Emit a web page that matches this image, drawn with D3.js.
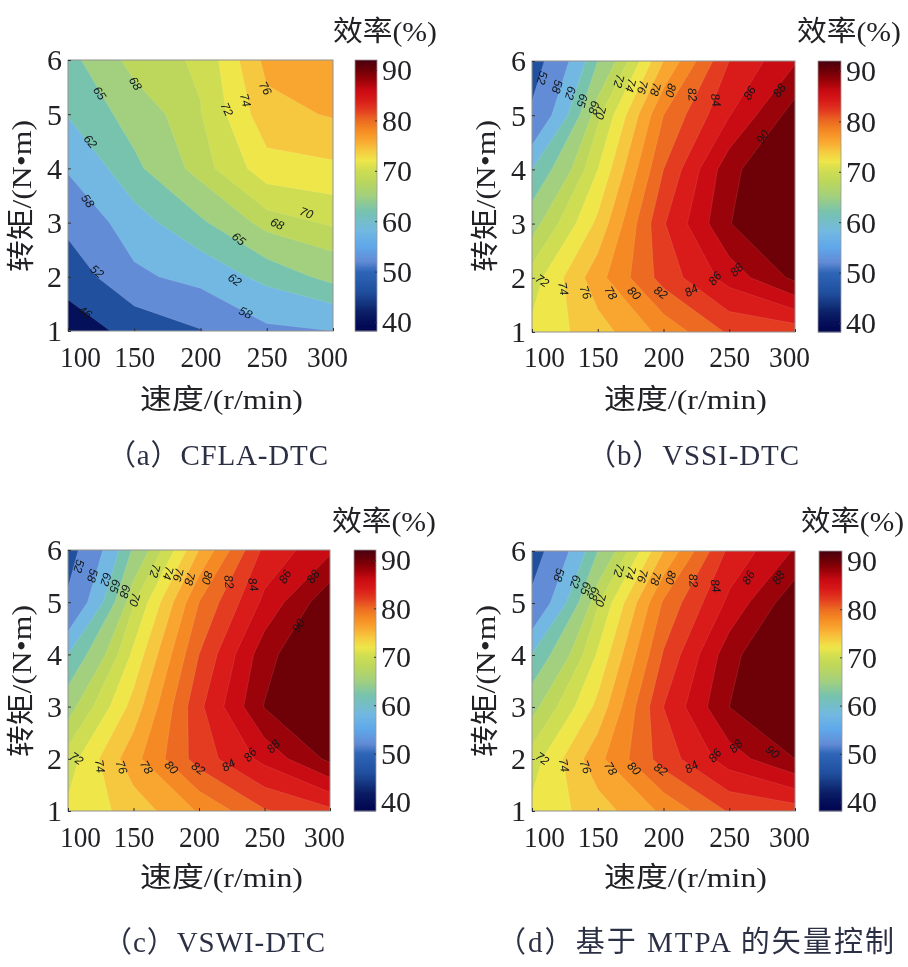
<!DOCTYPE html>
<html><head><meta charset="utf-8">
<script src="https://cdn.jsdelivr.net/npm/d3@7"></script>
<style>
html,body{margin:0;padding:0;background:#fff}
svg{display:block;filter:blur(0.75px)}
text{font-family:"Liberation Serif","Noto Sans CJK SC",serif;fill:#222226}
.cl{font-family:"Liberation Sans",sans-serif;font-size:12px;fill:#10161a;font-style:italic}
</style></head><body>
<svg id="c" width="908" height="967"></svg>
<script>
const speeds=[100,150,200,250,300];
const torques=[1,2,3,4,5,6];
const levels=[46,52,58,62,65,68,70,72,74,76,78,80,82,84,86,88,90];
const barTicks=[40,50,60,70,80,90];
// efficiency (%) rows for torque 1..6, columns for speed 100..300
const effA=[[43,47.7,51.7,57.2,58],[48.2,57,59.7,63,66],[53.7,60.6,64.5,69,70.3],[58.5,64.3,69.1,73.2,73.6],[62.2,66.3,69.9,75.3,76.2],[64,69,70.3,76.6,77.5]];
const effB=[[72.5,75.1,78.6,82.3,82.8],[71,77.25,82.8,86.8,90.5],[67,74.5,83.8,89.9,93],[62,72,82,89.3,93],[53.1,69.5,80,85.9,91],[49,65,76,84,87.8]];
const effC=[[72.4,74.8,78.2,81.8,83.5],[71,77.3,82.9,86.6,90.5],[67,74.8,83.5,90.1,93],[62,72.5,82,89.2,93],[53,69.8,80,86.5,91.5],[49.5,65.5,76,84.5,87.6]];
const effD=[[72.5,75,78.4,82.2,83],[71,77.4,82.9,87,90],[67.2,74.6,84,90,93],[62.2,72.3,82.2,89.2,93.5],[53.5,69.8,80.3,86.5,91.5],[49,65,76,84.5,88.2]];
// contour labels: text, speed, torque
const labA=[["46",113,1.35,35],["52",122,2.1,40],["58",115,3.4,55],["62",117,4.5,50],["65",124,5.39,55],["68",151,5.57,60],["72",220,5.09,65],["74",234,5.26,75],["76",249,5.48,60],["58",234,1.34,25],["62",226,1.95,35],["65",229,2.7,40],["68",258,2.98,25],["70",280,3.18,20]];
const topB=[["52",107.9,5.69],["58",119.3,5.53],["62",129.4,5.41],["65",138.3,5.27],["68",147.2,5.14],["70",152.3,5.05],["72",166.2,5.63],["74",175.1,5.55],["76",184,5.52],["78",194,5.48],["80",205.6,5.46],["82",222,5.38],["84",239.9,5.28],["86",265.3,5.41],["88",288,5.46],["90",275.4,4.6]];
const botB=[["72",107.9,1.95],["74",123.8,1.8],["76",140.9,1.73],["78",160,1.72],["80",177.7,1.72],["82",198,1.73],["84",221,1.77],["86",239,1.99],["88",255.6,2.15]];
const topC=[["52",108.4,5.69],["58",118.8,5.51],["62",129,5.44],["65",135.9,5.31],["68",143.5,5.21],["70",151,5.05],["72",166.4,5.6],["74",176.6,5.56],["76",184.2,5.53],["78",193,5.45],["80",206.4,5.47],["82",223,5.39],["84",241.5,5.34],["86",265.6,5.49],["88",287,5.49],["90",275.8,4.55]];
const botC=[["72",106.6,2.01],["74",124.4,1.86],["76",141,1.84],["78",160,1.84],["80",179,1.84],["82",199.5,1.82],["84",222.4,1.88],["86",239,2.08],["88",256.7,2.24]];
const topD=[["58",120.6,5.54],["62",133.2,5.41],["65",140.9,5.28],["68",147.2,5.18],["70",152.3,5.06],["72",166.2,5.63],["74",175.1,5.58],["76",184,5.52],["78",194.2,5.47],["80",205.6,5.49],["82",222.8,5.43],["84",239.8,5.33],["86",264.5,5.49],["88",287.3,5.49]];
const botD=[["72",107.9,2.01],["74",124.4,1.88],["76",140.9,1.85],["78",159.9,1.82],["80",177.7,1.82],["82",198,1.8],["84",221.3,1.85],["86",239,2.07],["88",255,2.25],["90",283,2.14]];
const botAngle={"72":35,"74":80,"76":70,"78":60,"80":45,"82":35,"84":-30,"86":-50,"88":-45,"90":40};
const topAngle={"86":-60,"88":-55,"90":-55,"84":80,"82":85};
const withTop=(top,bot)=>top.map(d=>[...d,topAngle[d[0]]??105]).concat(bot.map(d=>[...d,botAngle[d[0]]]));
// colormap
const cmapV=[38,40,42,46,50,52,55,58,62,65,68,70,72,74,76,78,80,82,84,86,88,90,92];
const cmapC=["#02044e","#05105a","#0c2068","#21509f","#2f66b8","#638cd6","#5fa8ea","#72b8e2","#78c3ae","#a2d07e","#bdd75c","#cedd52","#efe64a","#f6c83f","#f9a630","#f58a24","#ec6a22","#e33c21","#d91b19","#c90b13","#9a0309","#6e0007","#4a0010"];
const cmap=d3.scaleLinear().domain(cmapV).range(cmapC);

const panels=[
 {eff:effA,labs:labA,px:[68,333],py:[331,60],bar:[355,377],caption:"（a）CFLA-DTC",capX:[107,328],capY:465,ttl:[333,437],ttlY:41,xl:[140,303],xlY:409,tickY:367,yl:18,ylc:196},
 {eff:effB,labs:withTop(topB,botB),px:[532,795],py:[332,61],bar:[818,841],caption:"（b）VSSI-DTC",capX:[587,799],capY:465,ttl:[797,901],ttlY:41,xl:[604,767],xlY:409,tickY:367,yl:482,ylc:196},
 {eff:effC,labs:withTop(topC,botC),px:[68,330],py:[811,550],bar:[354,376],caption:"（c）VSWI-DTC",capX:[103,325],capY:952,ttl:[332,436],ttlY:531,xl:[140,303],xlY:887,tickY:847,yl:18,ylc:681},
 {eff:effD,labs:withTop(topD,botD),px:[532,795],py:[811,551],bar:[819,842],caption:"（d）基于 MTPA 的矢量控制",capX:[497,894],capY:952,ttl:[801,904],ttlY:531,xl:[604,767],xlY:887,tickY:847,yl:482,ylc:681}
];

const svg=d3.select("#c");
const defs=svg.append("defs");
const serif='"Liberation Serif",serif';
panels.forEach((p,i)=>{
  const g=svg.append("g");
  const x=d3.scaleLinear().domain([100,300]).range(p.px);
  const y=d3.scaleLinear().domain([1,6]).range(p.py);
  const nx=speeds.length, ny=torques.length;
  const flat=p.eff.flat();
  const project=d3.geoTransform({point(gx,gy){
    const sp=speeds[0]+Math.max(0,Math.min(nx-1,gx-0.5))*(speeds[1]-speeds[0]);
    const tq=torques[0]+Math.max(0,Math.min(ny-1,gy-0.5))*(torques[1]-torques[0]);
    this.stream.point(x(sp),y(tq));
  }});
  const path=d3.geoPath(project);
  const contours=d3.contours().size([nx,ny]).thresholds(levels)(flat);
  defs.append("clipPath").attr("id","clip"+i).append("rect")
    .attr("x",p.px[0]).attr("y",p.py[1]).attr("width",p.px[1]-p.px[0]).attr("height",p.py[0]-p.py[1]);
  const plot=g.append("g").attr("clip-path",`url(#clip${i})`);
  plot.append("rect").attr("x",p.px[0]).attr("y",p.py[1]).attr("width",p.px[1]-p.px[0]).attr("height",p.py[0]-p.py[1]).attr("fill",cmap(40));
  plot.selectAll("path").data(contours).join("path")
    .attr("d",path).attr("fill",d=>cmap(d.value))
    .attr("stroke","#fff").attr("stroke-opacity",0.14).attr("stroke-width",0.7);
  // frame
  g.append("rect").attr("x",p.px[0]).attr("y",p.py[1]).attr("width",p.px[1]-p.px[0]).attr("height",p.py[0]-p.py[1]).attr("fill","none").attr("stroke","#8f8f8f").attr("stroke-width",1);
  // axes
  const ax=g.append("g").attr("transform",`translate(0,${p.py[0]})`).call(d3.axisBottom(x).tickValues(speeds).tickFormat(d3.format("d")).tickSize(-3).tickSizeOuter(0));
  ax.select(".domain").remove();
  ax.selectAll("line").attr("stroke","#333");
  ax.selectAll("text").attr("font-size",30).attr("y",p.tickY-p.py[0]).attr("dy",0).attr("text-anchor","middle")
    .attr("x",d=>d===100?12:(d===300?-6:0)).attr("textLength",41).attr("lengthAdjust","spacingAndGlyphs")
    .style("font-family",serif).style("fill","#222226");
  const ay=g.append("g").attr("transform",`translate(${p.px[0]},0)`).call(d3.axisLeft(y).tickValues(torques).tickFormat(d3.format("d")).tickSize(-3).tickSizeOuter(0));
  ay.select(".domain").remove();
  ay.selectAll("line").attr("stroke","#333");
  ay.selectAll("text").attr("font-size",30).attr("x",-6).attr("dy","0.33em").style("font-family",serif).style("fill","#222226");
  // contour labels
  g.selectAll("text.cl").data(p.labs).join("text").attr("class","cl")
    .attr("text-anchor","middle").attr("dy","0.35em")
    .attr("transform",d=>`translate(${x(d[1])},${y(d[2])}) rotate(${d[3]})`)
    .text(d=>d[0]);
  // colorbar
  const barY=d3.scaleLinear().domain([40,90]).range([p.py[0]-9,p.py[1]+10]);
  const barVals=d3.range(barY.invert(p.py[0]),barY.invert(p.py[1]),0.25);
  const bw=p.bar[1]-p.bar[0];
  g.selectAll("rect.b").data(barVals).join("rect").attr("class","b")
    .attr("x",p.bar[0]).attr("width",bw)
    .attr("y",d=>Math.max(p.py[1],barY(d+0.25)-0.4))
    .attr("height",d=>barY(d)-barY(d+0.25)+0.8)
    .attr("fill",d=>cmap(d));
  g.append("rect").attr("x",p.bar[0]).attr("y",p.py[1]).attr("width",bw).attr("height",p.py[0]-p.py[1]).attr("fill","none").attr("stroke","#9a9a9a").attr("stroke-width",0.8);
  const ab=g.append("g").attr("transform",`translate(${p.bar[1]},0)`).call(d3.axisRight(barY).tickValues(barTicks).tickSize(-2).tickSizeOuter(0));
  ab.select(".domain").remove();
  ab.selectAll("line").attr("stroke","#333");
  ab.selectAll("text").attr("font-size",30).attr("x",5).attr("dy","0.33em").style("font-family",serif).style("fill","#222226");
  // titles
  const fit=(t,range,yy,size)=>g.append("text").attr("x",range[0]).attr("y",yy).attr("font-size",size)
    .attr("textLength",range[1]-range[0]).attr("lengthAdjust","spacingAndGlyphs").text(t);
  fit("效率(%)",p.ttl,p.ttlY,28);
  fit("速度/(r/min)",p.xl,p.xlY,28);
  fit(p.caption,p.capX,p.capY,29).attr("lengthAdjust","spacing").style("fill","#2c3044");
  g.append("text").attr("font-size",28).attr("text-anchor","middle")
    .attr("transform",`translate(${p.yl+13},${p.ylc}) rotate(-90)`)
    .attr("textLength",152).attr("lengthAdjust","spacingAndGlyphs").text("转矩/(N•m)");
});
</script></body></html>
